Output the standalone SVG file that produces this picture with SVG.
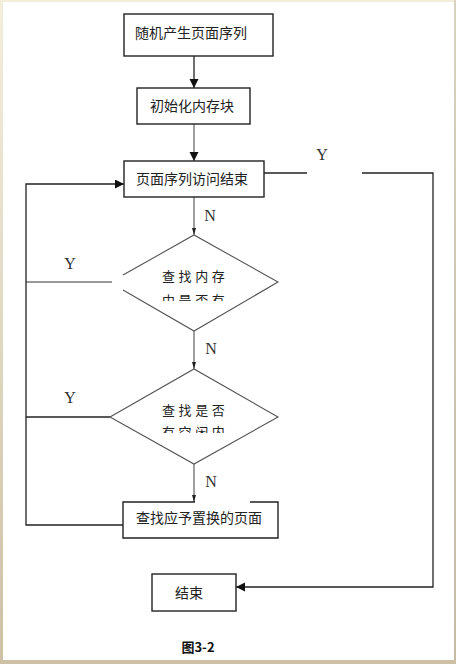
<svg xmlns="http://www.w3.org/2000/svg" width="456" height="664" viewBox="0 0 456 664">
<defs>
<linearGradient id="bg" x1="0" y1="0" x2="0" y2="1">
<stop offset="0" stop-color="#f3eedc"/>
<stop offset="1" stop-color="#cdc1a5"/>
</linearGradient>
<marker id="big" markerUnits="userSpaceOnUse" markerWidth="10" markerHeight="10" refX="9" refY="4.5" orient="auto">
<path d="M0,0 L9,4.5 L0,9 z" fill="#111"/>
</marker>
<marker id="small" markerUnits="userSpaceOnUse" markerWidth="8" markerHeight="6" refX="7" refY="2.5" orient="auto">
<path d="M0,0.5 L7,2.5 L0,4.5 z" fill="#222"/>
</marker>
<clipPath id="clip1"><rect x="150" y="290" width="90" height="11"/></clipPath>
<clipPath id="clip2"><rect x="150" y="422" width="90" height="11"/></clipPath>
</defs>
<style>
.box{fill:#fff;stroke:#222;stroke-width:1.4}
.dia{fill:#fff;stroke:#555;stroke-width:1.1}
.cn{fill:none;stroke:#222;stroke-width:1.3}
.cg{fill:none;stroke:#777;stroke-width:1.4}
.t{font-family:"Noto Sans CJK SC","Noto Sans",sans-serif;font-size:14px;fill:#222;text-anchor:middle}
.d{font-family:"Noto Sans CJK SC","Noto Sans",sans-serif;font-size:13px;fill:#222;letter-spacing:3.6px}
.l{font-family:"Liberation Serif",serif;font-size:16px;fill:#333;text-anchor:middle}
</style>
<rect x="0" y="0" width="456" height="664" fill="url(#bg)"/>
<rect x="3" y="2" width="451" height="658" fill="#fff"/>
<line x1="455" y1="0" x2="455" y2="660" stroke="#bdb5a5" stroke-width="1"/>

<g id="connectors">
<line class="cn" x1="194" y1="56" x2="194" y2="88" marker-end="url(#big)"/>
<line class="cg" x1="194" y1="124" x2="194" y2="161" marker-end="url(#big)"/>
<line class="cg" x1="194" y1="197" x2="194" y2="235" marker-end="url(#small)"/>
<line class="cn" x1="264" y1="173" x2="307" y2="173"/>
<polyline class="cn" points="362,173 433,173 433,587 236,587" marker-end="url(#big)"/>
<line class="cg" x1="194" y1="331" x2="194" y2="369" marker-end="url(#small)"/>
<line class="cg" x1="112" y1="282" x2="26" y2="282"/>
<line class="cn" x1="110" y1="417" x2="26" y2="417"/>
<line class="cg" x1="194" y1="464" x2="194" y2="502" marker-end="url(#small)"/>
<polyline class="cn" points="123,525 26,525 26,184 124,184" marker-end="url(#big)"/>
<text class="l" x="322" y="160" font-size="17">Y</text>
<text class="l" x="210" y="221">N</text>
<text class="l" x="70" y="269">Y</text>
<text class="l" x="211" y="354">N</text>
<text class="l" x="70" y="403">Y</text>
<text class="l" x="211" y="487">N</text>
</g>

<g id="n1">
<rect class="box" x="124" y="14" width="149" height="42"/>
<text class="t" x="191" y="38">随机产生页面序列</text>
</g>
<g id="n2">
<rect class="box" x="137" y="88" width="113" height="36"/>
<text class="t" x="192" y="111">初始化内存块</text>
</g>
<g id="n3">
<rect class="box" x="124" y="161" width="140" height="36"/>
<text class="t" x="192" y="184">页面序列访问结束</text>
</g>
<g id="n4">
<path class="dia" d="M123,275 L194,235 L278,282 L194,331 L123,290"/>
<text class="d" x="162" y="281">查找内存</text>
<text class="d" x="162" y="305" clip-path="url(#clip1)">中是否有</text>
</g>
<g id="n5">
<path class="dia" d="M110,417 L194,369 L278,417 L194,464 Z"/>
<text class="d" x="162" y="415">查找是否</text>
<text class="d" x="162" y="437" clip-path="url(#clip2)">有空闲内</text>
</g>
<g id="n6">
<rect x="123" y="502" width="155" height="36" fill="#fff"/>
<path class="box" fill="none" d="M195,502 L123,502 L123,538 L278,538 L278,502 L250,502"/>
<text class="t" x="199" y="523">查找应予置换的页面</text>
</g>
<g id="n7">
<rect class="box" x="152" y="574" width="84" height="37"/>
<text class="t" x="189" y="598" font-size="15">结束</text>
</g>
<text x="198" y="652" font-family="'Noto Sans CJK SC','Noto Sans',sans-serif" font-size="13" font-weight="bold" fill="#111" text-anchor="middle">图3-2</text>
</svg>
